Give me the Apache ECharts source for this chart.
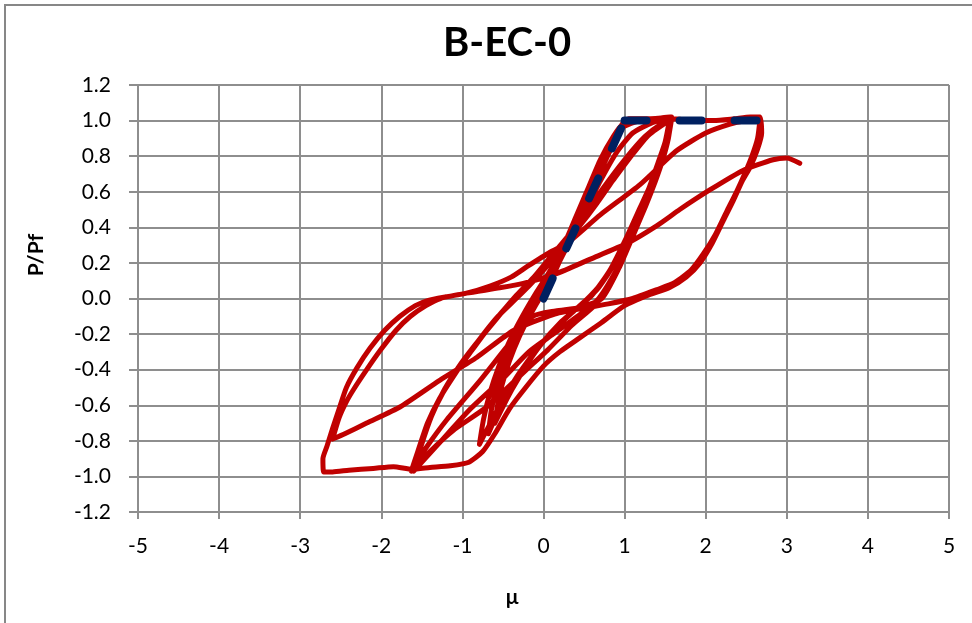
<!DOCTYPE html>
<html>
<head>
<meta charset="utf-8">
<title>B-EC-0</title>
<script src="https://cdn.jsdelivr.net/npm/echarts@6/dist/echarts.min.js"></script>
<style>
  html, body { margin: 0; padding: 0; background: #fff; }
  #chart { width: 972px; height: 623px; }
</style>
</head>
<body>
<div id="chart"></div>
<script>
// Axis ticks
const xTicks = [-5, -4, -3, -2, -1, 0, 1, 2, 3, 4, 5];
const yTicks = [-1.2, -1.0, -0.8, -0.6, -0.4, -0.2, 0.0, 0.2, 0.4, 0.6, 0.8, 1.0, 1.2];

// Test record, branch by branch: [mu, P/Pf]
const loadInit = [[0,0],[0.12,0.13],[0.25,0.26],[0.4,0.41],[0.55,0.56],[0.7,0.71],[0.85,0.86],[0.97,0.98],[1.05,1.01],[1.25,1.01],[1.45,1.015],[1.56,1.02]];

const down1 = [[1.56,1.02],[1.5,0.88],[1.41,0.76],[1.3,0.62],[1.19,0.51],[1.03,0.35],[0.82,0.16],[0.6,0.02],[0.3,-0.1],[0.0,-0.24],[-0.3,-0.42],[-0.55,-0.61],[-0.7,-0.74],[-0.79,-0.82]];
const up1 = [[-0.79,-0.82],[-0.74,-0.68],[-0.66,-0.53],[-0.55,-0.38],[-0.42,-0.24],[-0.26,-0.1],[-0.08,0.04],[0.1,0.17],[0.25,0.3],[0.4,0.46],[0.55,0.62],[0.7,0.78],[0.86,0.91],[0.98,0.98],[1.15,1.0],[1.35,1.01],[1.57,1.01]];

const down2 = [[1.57,1.01],[1.52,0.9],[1.44,0.78],[1.34,0.65],[1.22,0.53],[1.07,0.38],[0.88,0.2],[0.66,0.05],[0.4,-0.06],[0.12,-0.18],[-0.15,-0.33],[-0.4,-0.52],[-0.57,-0.65],[-0.68,-0.76]];
const up2 = [[-0.68,-0.76],[-0.64,-0.62],[-0.57,-0.48],[-0.46,-0.33],[-0.32,-0.19],[-0.15,-0.05],[0.02,0.08],[0.18,0.22],[0.33,0.37],[0.48,0.54],[0.63,0.7],[0.8,0.85],[0.97,0.96],[1.2,1.0],[1.57,1.01]];

const down3 = [[1.57,1.01],[1.53,0.92],[1.46,0.8],[1.37,0.68],[1.26,0.56],[1.12,0.42],[0.94,0.25],[0.74,0.1],[0.5,-0.02],[0.22,-0.13],[-0.05,-0.27],[-0.3,-0.44],[-0.48,-0.59],[-0.6,-0.7]];
const up3 = [[-0.6,-0.7],[-0.55,-0.56],[-0.47,-0.42],[-0.36,-0.28],[-0.22,-0.14],[-0.05,0.0],[0.12,0.14],[0.3,0.3],[0.5,0.48],[0.7,0.66],[0.9,0.82],[1.1,0.93],[1.35,0.99],[1.58,1.02]];

const down4 = [[1.58,1.02],[1.54,0.9],[1.47,0.78],[1.38,0.66],[1.26,0.52],[1.12,0.37],[0.93,0.17],[0.72,0.0],[0.45,-0.05],[0.15,-0.07],[-0.13,-0.1],[-0.45,-0.27],[-0.78,-0.46],[-1.19,-0.68],[-1.45,-0.84],[-1.62,-0.96]];
const up4 = [[-1.62,-0.96],[-1.53,-0.84],[-1.4,-0.68],[-1.24,-0.53],[-1.06,-0.4],[-0.88,-0.29],[-0.7,-0.18],[-0.52,-0.08],[-0.36,0.0],[-0.15,0.1],[0.05,0.2],[0.25,0.3],[0.45,0.41],[0.65,0.53],[0.85,0.66],[1.05,0.79],[1.25,0.9],[1.42,0.97],[1.58,1.01]];

const down5 = [[1.58,1.01],[1.52,0.87],[1.44,0.74],[1.33,0.6],[1.2,0.46],[1.05,0.3],[0.87,0.13],[0.65,-0.03],[0.35,-0.15],[0.05,-0.29],[-0.21,-0.4],[-0.7,-0.61],[-1.11,-0.74],[-1.4,-0.86],[-1.63,-0.97]];
const up5 = [[-1.63,-0.97],[-1.55,-0.86],[-1.43,-0.7],[-1.28,-0.56],[-1.1,-0.43],[-0.92,-0.31],[-0.74,-0.2],[-0.56,-0.1],[-0.38,-0.02],[-0.18,0.07],[0.02,0.17],[0.22,0.28],[0.42,0.4],[0.62,0.52],[0.85,0.66],[1.08,0.8],[1.3,0.92],[1.58,1.01]];

const down6 = [[1.58,1.01],[1.53,0.88],[1.45,0.76],[1.35,0.63],[1.23,0.49],[1.08,0.33],[0.9,0.16],[0.68,0.0],[0.42,-0.1],[0.12,-0.2],[-0.18,-0.3],[-0.5,-0.45],[-0.9,-0.62],[-1.3,-0.82],[-1.6,-0.97]];
const up6 = [[-1.6,-0.97],[-1.51,-0.83],[-1.38,-0.66],[-1.22,-0.51],[-1.04,-0.38],[-0.86,-0.27],[-0.68,-0.17],[-0.5,-0.07],[-0.33,0.02],[-0.12,0.12],[0.08,0.23],[0.3,0.35],[0.52,0.48],[0.75,0.63],[1.0,0.78],[1.25,0.91],[1.45,0.98],[1.6,1.01],[1.85,1.0],[2.1,1.0],[2.35,1.01],[2.55,1.02],[2.67,1.02]];

const down7 = [[2.67,1.02],[2.69,0.93],[2.64,0.84],[2.55,0.74],[2.45,0.66],[2.34,0.55],[2.22,0.44],[2.08,0.31],[1.93,0.2],[1.76,0.12],[1.55,0.06],[1.3,0.02],[1.0,-0.04],[0.7,-0.14],[0.45,-0.22],[0.2,-0.3],[0.0,-0.38],[-0.22,-0.5],[-0.42,-0.62],[-0.6,-0.76],[-0.75,-0.86],[-0.92,-0.92],[-1.15,-0.94],[-1.4,-0.95],[-1.62,-0.96],[-1.85,-0.945],[-2.1,-0.955],[-2.4,-0.965],[-2.6,-0.975],[-2.71,-0.975]];
const up7 = [[-2.71,-0.975],[-2.72,-0.9],[-2.67,-0.83],[-2.6,-0.73],[-2.52,-0.62],[-2.43,-0.5],[-2.3,-0.39],[-2.14,-0.28],[-1.96,-0.18],[-1.77,-0.1],[-1.58,-0.04],[-1.42,-0.01],[-1.2,0.01],[-0.95,0.03],[-0.66,0.07],[-0.4,0.12],[-0.2,0.18],[0.08,0.26],[0.29,0.31],[0.7,0.47],[1.19,0.64],[1.64,0.83],[2.0,0.93],[2.3,0.98],[2.5,1.0],[2.67,1.01]];

const down8 = [[2.67,1.01],[2.64,0.9],[2.57,0.8],[2.48,0.7],[2.38,0.6],[2.26,0.49],[2.12,0.36],[1.97,0.25],[1.82,0.16],[1.62,0.09],[1.4,0.05],[1.1,0.0],[0.8,-0.03],[0.49,-0.055],[0.12,-0.09],[-0.37,-0.18],[-0.82,-0.33],[-1.28,-0.46],[-1.77,-0.61],[-2.18,-0.7],[-2.45,-0.76],[-2.6,-0.79]];
const finalPush = [[-2.6,-0.79],[-2.52,-0.67],[-2.43,-0.58],[-2.34,-0.51],[-2.18,-0.4],[-2.01,-0.29],[-1.82,-0.18],[-1.64,-0.1],[-1.45,-0.04],[-1.27,0.0],[-0.95,0.03],[-0.54,0.06],[-0.25,0.085],[0.16,0.14],[0.57,0.22],[1.03,0.31],[1.4,0.41],[1.68,0.5],[2.05,0.61],[2.46,0.72],[2.83,0.78],[3.0,0.79],[3.16,0.76]];

// Idealised bilinear envelope: elastic leg, then plastic plateau
const envelopeElastic = [[0,0],[1.0,1.0]];
const envelopePlastic = [[1.0,1.0],[2.68,1.0]];

const branches = [loadInit, down1, up1, down2, up2, down3, up3, down4, up4,
                  down5, up5, down6, up6, down7, up7, down8, finalPush];
const record = [];
branches.forEach((b, i) => b.forEach((p, j) => { if (i === 0 || j > 0) record.push(p); }));

const gridColor = '#8e8e8e';
const font = 'Lato, "Open Sans", sans-serif';
const envStyle = { color: '#002060', width: 8, type: [22, 33], cap: 'round', join: 'round' };

const chart = echarts.init(document.getElementById('chart'), null, { renderer: 'canvas' });
chart.setOption({
  animation: false,
  backgroundColor: '#ffffff',
  grid: { left: 138, right: 23, top: 85, bottom: 111, containLabel: false },
  xAxis: {
    type: 'value',
    min: xTicks[0], max: xTicks[xTicks.length - 1], interval: 1,
    axisLine: { onZero: false, lineStyle: { color: gridColor, width: 2 } },
    axisTick: { show: true, length: 7, lineStyle: { color: gridColor, width: 2 } },
    axisLabel: { color: '#000', fontSize: 21, fontFamily: font, margin: 24 },
    splitLine: { show: true, lineStyle: { color: gridColor, width: 2 } }
  },
  yAxis: {
    type: 'value',
    min: yTicks[0], max: yTicks[yTicks.length - 1], interval: 0.2,
    axisLine: { onZero: false, show: true, lineStyle: { color: gridColor, width: 2 } },
    axisTick: { show: true, length: 9, lineStyle: { color: gridColor, width: 2 } },
    axisLabel: {
      color: '#000', fontSize: 21, fontFamily: font, margin: 27,
      formatter: v => (Math.abs(v) < 1e-9 ? 0 : v).toFixed(1)
    },
    splitLine: { show: true, lineStyle: { color: gridColor, width: 2 } }
  },
  graphic: [
    { type: 'rect', silent: true, z: -1,
      shape: { x: 5, y: 5, width: 1000, height: 1000 },
      style: { fill: 'none', stroke: '#878787', lineWidth: 2 } },
    { type: 'text', x: 507, y: 43, silent: true,
      style: { text: 'B-EC-0', font: 'bold 40px ' + font, fill: '#000', textAlign: 'center', textVerticalAlign: 'middle' } },
    { type: 'text', x: 36, y: 255, rotation: Math.PI / 2, silent: true,
      style: { text: 'P/Pf', font: 'bold 21px ' + font, fill: '#000', textAlign: 'center', textVerticalAlign: 'middle' } },
    { type: 'text', x: 512, y: 597, silent: true,
      style: { text: 'μ', font: 'bold 21px ' + font, fill: '#000', textAlign: 'center', textVerticalAlign: 'middle' } }
  ],
  series: [
    {
      name: 'Hysteresis', type: 'line', data: record,
      showSymbol: false, smooth: 0.2,
      lineStyle: { color: '#C00000', width: 5, cap: 'round', join: 'round' },
      z: 2
    },
    { name: 'Envelope', type: 'line', data: envelopeElastic, showSymbol: false, lineStyle: envStyle, z: 3 },
    { name: 'Envelope', type: 'line', data: envelopePlastic, showSymbol: false, lineStyle: envStyle, z: 3 }
  ]
});
</script>
</body>
</html>
